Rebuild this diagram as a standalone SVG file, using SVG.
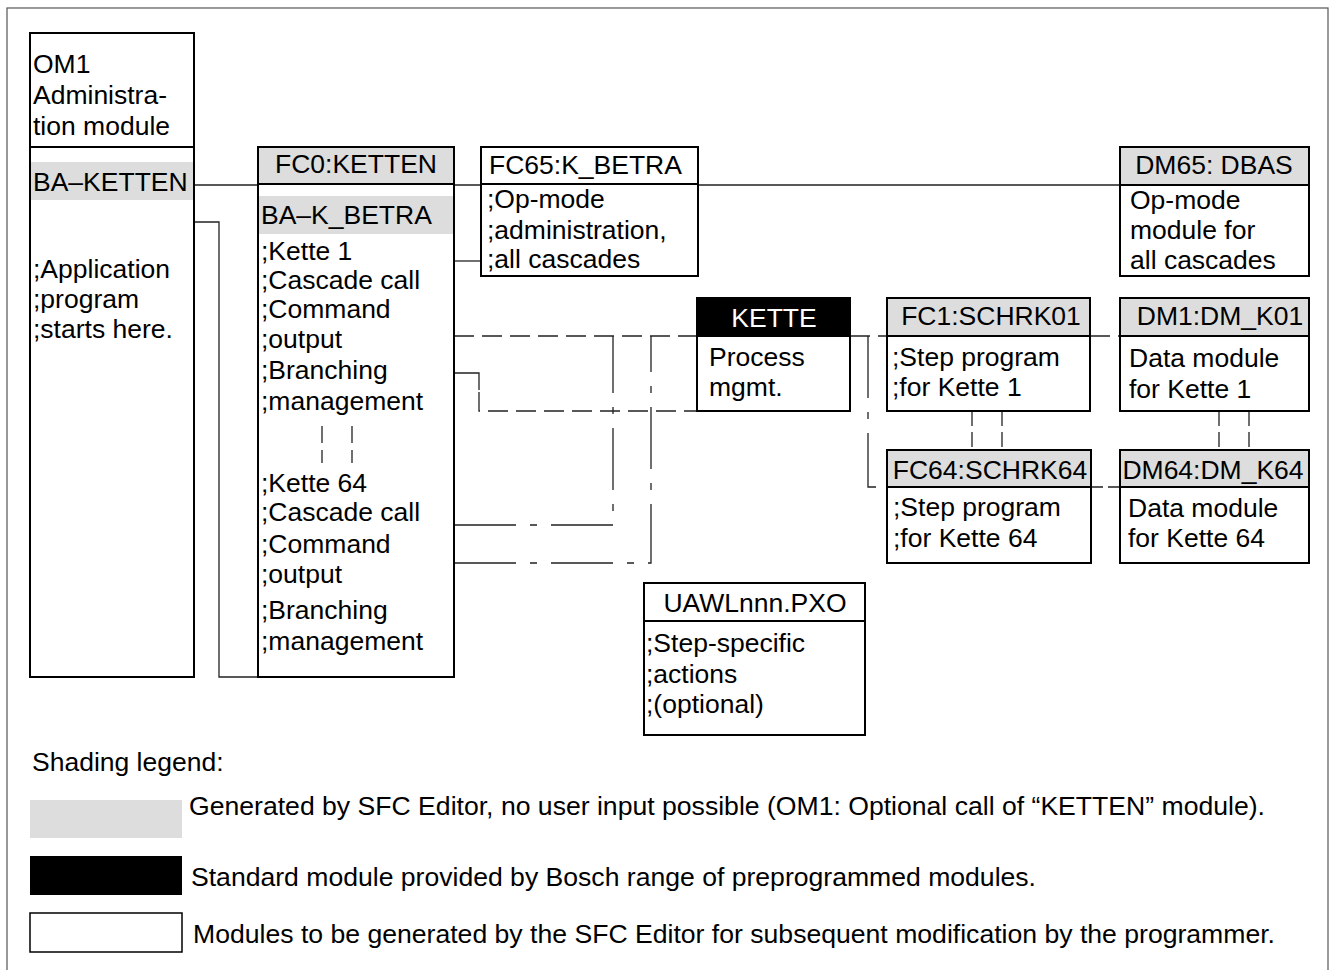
<svg xmlns="http://www.w3.org/2000/svg" width="1330" height="970" viewBox="0 0 1330 970">
<style>
text{font-family:"Liberation Sans",Arial,sans-serif;font-size:26.5px;fill:#000}
.c{text-anchor:middle}
.w{fill:#fff}
.box{fill:#fff;stroke:#000;stroke-width:2}
.hg{fill:#dddddd;stroke:#000;stroke-width:2}
.hb{fill:#000;stroke:#000;stroke-width:2}
.band{fill:#dddddd;stroke:none}
.ln{fill:none;stroke:#222;stroke-width:1.3}
.ds{fill:none;stroke:#222;stroke-width:1.3;stroke-dasharray:20,8}
.dd{fill:none;stroke:#222;stroke-width:1.3;stroke-dasharray:62,14,7,14}
.sd{fill:none;stroke:#222;stroke-width:1.3;stroke-dasharray:15,6}
</style>
<rect x="7" y="8" width="1321" height="1000" fill="#fff" stroke="#555" stroke-width="1.2"/>

<g id="connectors">
<path class="ln" d="M194,185H258M454,185H481M698,185H1120"/>
<path class="ln" d="M194,222H219V677H258"/>
<path class="ln" d="M454,261H481"/>
<path class="ds" d="M454,336H697M850,336H887M1090,336H1120"/>
<path class="ln" d="M454,373H479V390"/>
<path class="ds" d="M479,392V411H697"/>
<path class="dd" d="M454,525H613V336"/>
<path class="dd" d="M454,563H651V336"/>
<path class="dd" d="M868,336V487H887"/>
<path class="dd" d="M1091,487H1120" style="stroke-dasharray:12,5"/>
<path class="sd" d="M972,411V450M1002,411V450M1219,411V450M1249,411V450"/>
</g>

<g id="om1">
<rect class="box" x="30" y="33" width="164" height="644"/>
<line x1="30" y1="147" x2="194" y2="147" stroke="#000" stroke-width="2"/>
<rect class="band" x="31" y="162" width="162" height="38"/>
<text x="33" y="73">OM1</text>
<text x="33" y="104">Administra-</text>
<text x="33" y="135">tion module</text>
<text x="33" y="191">BA–KETTEN</text>
<text x="33" y="278">;Application</text>
<text x="33" y="308">;program</text>
<text x="33" y="338">;starts here.</text>
</g>

<g id="fc0">
<rect class="box" x="258" y="147" width="196" height="530"/>
<rect class="hg" x="258" y="147" width="196" height="37"/>
<rect class="band" x="259" y="196" width="194" height="38"/>
<text class="c" x="356" y="173">FC0:KETTEN</text>
<text x="261" y="224">BA–K_BETRA</text>
<text x="261" y="260">;Kette 1</text>
<text x="261" y="289">;Cascade call</text>
<text x="261" y="318">;Command</text>
<text x="261" y="348">;output</text>
<text x="261" y="379">;Branching</text>
<text x="261" y="410">;management</text>
<path class="sd" d="M322,426V463M352,426V463" style="stroke-dasharray:17,7"/>
<text x="261" y="492">;Kette 64</text>
<text x="261" y="521">;Cascade call</text>
<text x="261" y="553">;Command</text>
<text x="261" y="583">;output</text>
<text x="261" y="619">;Branching</text>
<text x="261" y="650">;management</text>
</g>

<g id="fc65">
<rect class="box" x="481" y="147" width="217" height="129"/>
<line x1="481" y1="184" x2="698" y2="184" stroke="#000" stroke-width="2"/>
<text x="489" y="174">FC65:K_BETRA</text>
<text x="487" y="208">;Op-mode</text>
<text x="487" y="239">;administration,</text>
<text x="487" y="268">;all cascades</text>
</g>

<g id="dm65">
<rect class="box" x="1120" y="147" width="189" height="129"/>
<rect class="hg" x="1120" y="147" width="189" height="38"/>
<text class="c" x="1214" y="174">DM65: DBAS</text>
<text x="1130" y="209">Op-mode</text>
<text x="1130" y="239">module for</text>
<text x="1130" y="269">all cascades</text>
</g>

<g id="kette">
<rect class="box" x="697" y="298" width="153" height="113"/>
<rect class="hb" x="697" y="298" width="153" height="38"/>
<text class="c w" x="774" y="327">KETTE</text>
<text x="709" y="366">Process</text>
<text x="709" y="396">mgmt.</text>
</g>

<g id="fc1">
<rect class="box" x="887" y="298" width="203" height="113"/>
<rect class="hg" x="887" y="298" width="203" height="38"/>
<text class="c" x="991" y="325">FC1:SCHRK01</text>
<text x="892" y="366">;Step program</text>
<text x="892" y="396">;for Kette 1</text>
</g>

<g id="dm1">
<rect class="box" x="1120" y="298" width="189" height="113"/>
<rect class="hg" x="1120" y="298" width="189" height="38"/>
<text class="c" x="1220" y="325">DM1:DM_K01</text>
<text x="1129" y="367">Data module</text>
<text x="1129" y="398">for Kette 1</text>
</g>

<g id="fc64">
<rect class="box" x="887" y="450" width="204" height="113"/>
<rect class="hg" x="887" y="450" width="204" height="37"/>
<text class="c" x="990" y="479">FC64:SCHRK64</text>
<text x="893" y="516">;Step program</text>
<text x="893" y="547">;for Kette 64</text>
</g>

<g id="dm64">
<rect class="box" x="1120" y="450" width="189" height="113"/>
<rect class="hg" x="1120" y="450" width="189" height="37"/>
<text class="c" x="1213" y="479">DM64:DM_K64</text>
<text x="1128" y="517">Data module</text>
<text x="1128" y="547">for Kette 64</text>
</g>

<g id="uawl">
<rect class="box" x="644" y="583" width="221" height="152"/>
<line x1="644" y1="621" x2="865" y2="621" stroke="#000" stroke-width="2"/>
<text class="c" x="755" y="612">UAWLnnn.PXO</text>
<text x="646" y="652">;Step-specific</text>
<text x="646" y="683">;actions</text>
<text x="646" y="713">;(optional)</text>
</g>

<g id="legend">
<text x="32" y="771">Shading legend:</text>
<rect x="30" y="800" width="152" height="38" fill="#dddddd"/>
<text x="189" y="815" textLength="1076" lengthAdjust="spacingAndGlyphs">Generated by SFC Editor, no user input possible (OM1: Optional call of “KETTEN” module).</text>
<rect x="30" y="856" width="152" height="39" fill="#000"/>
<text x="191" y="886" textLength="845" lengthAdjust="spacingAndGlyphs">Standard module provided by Bosch range of preprogrammed modules.</text>
<rect x="30" y="913" width="152" height="39" fill="#fff" stroke="#000" stroke-width="1.5"/>
<text x="193" y="943" textLength="1082" lengthAdjust="spacingAndGlyphs">Modules to be generated by the SFC Editor for subsequent modification by the programmer.</text>
</g>
</svg>
